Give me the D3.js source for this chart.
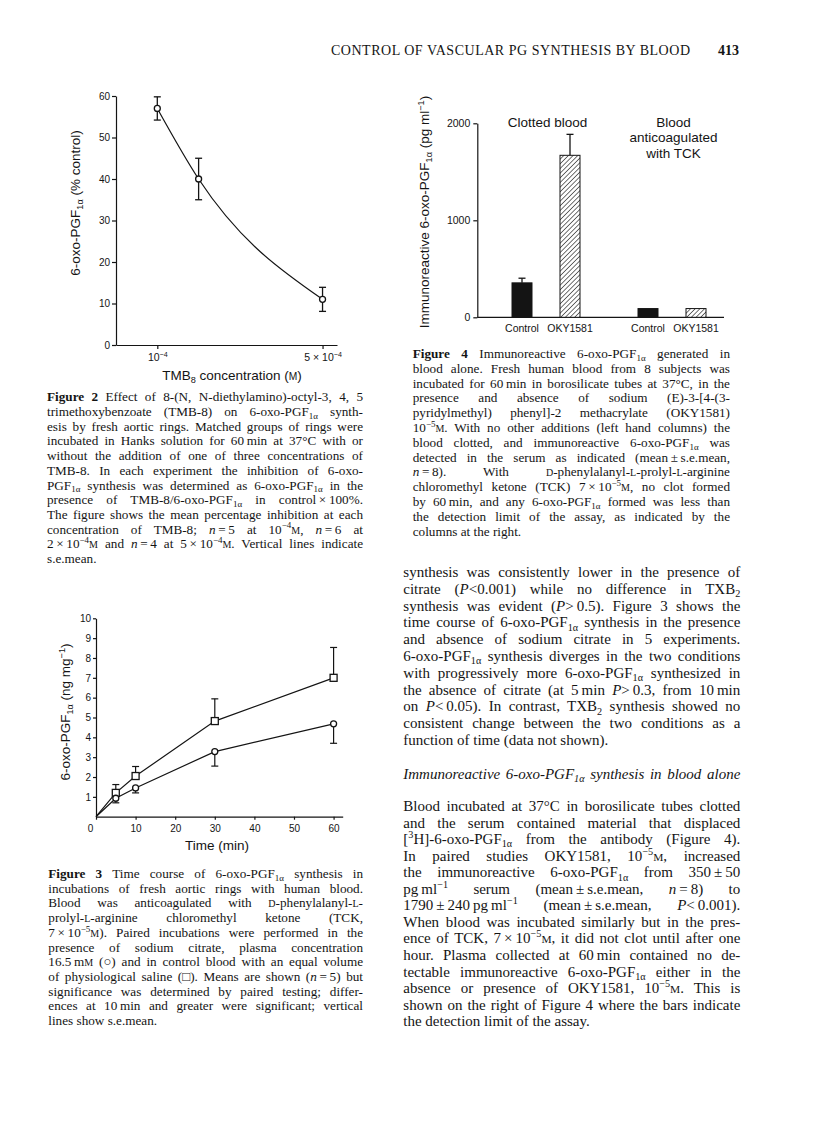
<!DOCTYPE html>
<html>
<head>
<meta charset="utf-8">
<script src="https://cdn.jsdelivr.net/npm/d3@7"></script>
<style>
	body { margin: 0; background: #fff; }
	svg { display: block; }
</style>
</head>
<body>
<div id="page"></div>
<script>
// Figure 2: TMB-8 concentration (x 10^-4 M) vs 6-oxo-PGF1a (% control)
var tmbConc = [1, 2, 5];
var tmbMean = [57, 40, 11];
var tmbSem = [2.8, 5, 2.9];
var f2YTicks = [0, 10, 20, 30, 40, 50, 60];
var f2XTicks = [1, 5];

// Figure 3: time course, saline (squares) and citrate (circles)
var times = [0, 5, 10, 30, 60];
var salineMean = [0, 1.2, 2.05, 4.82, 7.0];
var salineSem = [0, 0.42, 0.48, 1.12, 1.53];
var citrateMean = [0, 0.93, 1.45, 3.28, 4.68];
var citrateSem = [0, 0.23, 0.25, 0.73, 0.98];
var f3YTicks = [1, 2, 3, 4, 5, 6, 7, 8, 9, 10];
var f3XTicks = [0, 10, 20, 30, 40, 50, 60];

// Figure 4: immunoreactive 6-oxo-PGF1a (pg/ml)
var groups = ["Clotted blood", "Blood anticoagulated with TCK"];
var groupLines = [["Clotted blood"], ["Blood", "anticoagulated", "with TCK"]];
var treatments = ["Control", "OKY1581"];
var f4Values = [[355, 1670], [90, 90]];
var f4Sem = [[48, 216], [0, 0]];
var f4YTicks = [0, 1000, 2000];

// page text
var caption2 = [
	"!{Figure 2} Effect of 8-(N, N-diethylamino)-octyl-3, 4, 5",
	"trimethoxybenzoate (TMB-8) on 6-oxo-PGF_{1α} synth-",
	"esis by fresh aortic rings. Matched groups of rings were",
	"incubated in Hanks solution for 60\u2009min at 37°C with or",
	"without the addition of one of three concentrations of",
	"TMB-8. In each experiment the inhibition of 6-oxo-",
	"PGF_{1α} synthesis was determined as 6-oxo-PGF_{1α} in the",
	"presence of TMB-8/6-oxo-PGF_{1α} in control\u2009×\u2009100%.",
	"The figure shows the mean percentage inhibition at each",
	"concentration of TMB-8; *n*\u2009=\u20095 at 10^{−4}~{m}, *n*\u2009=\u20096 at",
	"2\u2009×\u200910^{−4}~{m} and *n*\u2009=\u20094 at 5\u2009×\u200910^{−4}~{m}. Vertical lines indicate",
	"s.e.mean."
];
var caption3 = [
	"!{Figure 3} Time course of 6-oxo-PGF_{1α} synthesis in",
	"incubations of fresh aortic rings with human blood.",
	"Blood was anticoagulated with ~{d}-phenylalanyl-~{l}-",
	"prolyl-~{l}-arginine chloromethyl ketone (TCK,",
	"7\u2009×\u200910^{−5}~{m}). Paired incubations were performed in the",
	"presence of sodium citrate, plasma concentration",
	"16.5\u2009m~{m} (○) and in control blood with an equal volume",
	"of physiological saline (□). Means are shown (*n*\u2009=\u20095) but",
	"significance was determined by paired testing; differ-",
	"ences at 10\u2009min and greater were significant; vertical",
	"lines show s.e.mean."
];
var caption4 = [
	"!{Figure 4} Immunoreactive 6-oxo-PGF_{1α} generated in",
	"blood alone. Fresh human blood from 8 subjects was",
	"incubated for 60\u2009min in borosilicate tubes at 37°C, in the",
	"presence and absence of sodium (E)-3-[4-(3-",
	"pyridylmethyl) phenyl]-2 methacrylate (OKY1581)",
	"10^{−5}~{m}. With no other additions (left hand columns) the",
	"blood clotted, and immunoreactive 6-oxo-PGF_{1α} was",
	"detected in the serum as indicated (mean\u2009±\u2009s.e.mean,",
	"*n*\u2009=\u20098). With ~{d}-phenylalanyl-~{l}-prolyl-~{l}-arginine",
	"chloromethyl ketone (TCK) 7\u2009×\u200910^{−5}~{m}, no clot formed",
	"by 60\u2009min, and any 6-oxo-PGF_{1α} formed was less than",
	"the detection limit of the assay, as indicated by the",
	"columns at the right."
];
var body1 = [
	"synthesis was consistently lower in the presence of",
	"citrate (*P*<0.001) while no difference in TXB_{2}",
	"synthesis was evident (*P*>\u20090.5). Figure 3 shows the",
	"time course of 6-oxo-PGF_{1α} synthesis in the presence",
	"and absence of sodium citrate in 5 experiments.",
	"6-oxo-PGF_{1α} synthesis diverges in the two conditions",
	"with progressively more 6-oxo-PGF_{1α} synthesized in",
	"the absence of citrate (at 5\u2009min *P*>\u20090.3, from 10\u2009min",
	"on *P*<\u20090.05). In contrast, TXB_{2} synthesis showed no",
	"consistent change between the two conditions as a",
	"function of time (data not shown)."
];
var heading = ["Immunoreactive 6-oxo-PGF_{1α} synthesis in blood alone"];
var body2 = [
	"Blood incubated at 37°C in borosilicate tubes clotted",
	"and the serum contained material that displaced",
	"[^{3}H]-6-oxo-PGF_{1α} from the antibody (Figure 4).",
	"In paired studies OKY1581, 10^{−5}~{m}, increased",
	"the immunoreactive 6-oxo-PGF_{1α} from 350\u2009±\u200950",
	"pg\u2009ml^{−1} serum (mean\u2009±\u2009s.e.mean, *n*\u2009=\u20098) to",
	"1790\u2009±\u2009240\u2009pg\u2009ml^{−1} (mean\u2009±\u2009s.e.mean, *P*<\u20090.001).",
	"When blood was incubated similarly but in the pres-",
	"ence of TCK, 7\u2009×\u200910^{−5}~{m}, it did not clot until after one",
	"hour. Plasma collected at 60\u2009min contained no de-",
	"tectable immunoreactive 6-oxo-PGF_{1α} either in the",
	"absence or presence of OKY1581, 10^{−5}~{m}. This is",
	"shown on the right of Figure 4 where the bars indicate",
	"the detection limit of the assay."
];

var SERIF = "'Liberation Serif', 'Times New Roman', serif";
var SANS = "'Liberation Sans', Arial, Helvetica, sans-serif";
var INK = "#141414";

var svg = d3.select("#page").append("svg")
	.attr("width", 816)
	.attr("height", 1133)
	.attr("viewBox", "0 0 816 1133");

svg.append("rect").attr("width", 816).attr("height", 1133).attr("fill", "#fff");

// small markup: !{bold} *italic* _{sub} ^{sup} ~{smallcaps}
function rich(text, str, size) {
	var re = /(!\{[^}]*\}|\*[^*]+\*|_\{[^}]*\}|\^\{[^}]*\}|~\{[^}]*\})/g;
	var shift = 0;
	str.split(re).forEach(function(part) {
		if (!part) return;
		var t = text.append("tspan");
		var target = 0;
		var txt = part;
		if (part.indexOf("!{") === 0) {
			txt = part.slice(2, -1);
			t.attr("font-weight", "bold");
		} else if (part.charAt(0) === "*") {
			txt = part.slice(1, -1);
			t.attr("font-style", "italic");
		} else if (part.indexOf("_{") === 0) {
			txt = part.slice(2, -1);
			t.attr("font-size", size * 0.68);
			target = size * 0.22;
		} else if (part.indexOf("^{") === 0) {
			txt = part.slice(2, -1);
			t.attr("font-size", size * 0.68);
			target = -size * 0.4;
		} else if (part.indexOf("~{") === 0) {
			txt = part.slice(2, -1).toUpperCase();
			t.attr("font-size", size * 0.76);
		}
		t.attr("dy", target - shift);
		shift = target;
		t.text(txt);
	});
	return text;
}

function justify(text, width) {
	var node = text.node();
	var natural = node.getComputedTextLength();
	var spaces = (node.textContent.match(/ /g) || []).length;
	if (!spaces) return;
	text.style("word-spacing", ((width - natural) / spaces) + "px");
	var after = node.getComputedTextLength();
	if (Math.abs(after - width) > 1.5) {
		text.style("word-spacing", null)
			.attr("textLength", width)
			.attr("lengthAdjust", "spacing");
	}
}

function paragraph(lines, x, y0, lineHeight, width, size, justifyLast, italic) {
	lines.forEach(function(line, i) {
		var t = svg.append("text")
			.attr("x", x)
			.attr("y", y0 + i * lineHeight)
			.attr("font-family", SERIF)
			.attr("font-size", size)
			.attr("fill", INK)
			.style("white-space", "pre");
		if (italic) t.attr("font-style", "italic");
		rich(t, line, size);
		if (i < lines.length - 1 || justifyLast) justify(t, width);
	});
}

function styleAxis(g, size) {
	g.attr("font-family", SANS).attr("font-size", size);
	g.selectAll("path, line").attr("stroke", INK).attr("stroke-width", 1.2);
	g.selectAll("text").attr("fill", INK);
}

function axisTitle(x, y, str, size, rotate) {
	var t = svg.append("text")
		.attr("font-family", SANS)
		.attr("font-size", size)
		.attr("fill", INK)
		.attr("text-anchor", "middle")
		.attr("transform", "translate(" + x + "," + y + ")" + (rotate ? " rotate(-90)" : ""));
	rich(t, str, size);
	return t;
}

// ---------- running head ----------
svg.append("text")
	.attr("x", 331).attr("y", 55)
	.attr("font-family", SERIF).attr("font-size", 14).attr("fill", INK)
	.attr("textLength", 359).attr("lengthAdjust", "spacing")
	.text("CONTROL OF VASCULAR PG SYNTHESIS BY BLOOD");
svg.append("text")
	.attr("x", 718).attr("y", 55)
	.attr("font-family", SERIF).attr("font-size", 14).attr("font-weight", "bold").attr("fill", INK)
	.text("413");

// ---------- Figure 2 ----------
var x2 = d3.scaleLinear().domain([0, 5.35]).range([116, 337]);
var y2 = d3.scaleLinear().domain([0, 60]).range([345, 96]);
var f2 = tmbConc.map(function(c, i) { return { c: c, m: tmbMean[i], s: tmbSem[i] }; });

var gy2 = svg.append("g").attr("transform", "translate(" + x2(0) + ",0)")
	.call(d3.axisLeft(y2).tickValues(f2YTicks).tickSize(4).tickSizeOuter(0).tickPadding(2));
styleAxis(gy2, 10);

var gx2 = svg.append("g").attr("transform", "translate(0," + y2(0) + ")")
	.call(d3.axisBottom(x2).tickValues(f2XTicks).tickSize(4).tickSizeOuter(0).tickPadding(4));
styleAxis(gx2, 10);
gx2.selectAll(".tick text").each(function(d) {
	var t = d3.select(this).text(null).attr("dy", null).attr("y", 16).attr("font-size", 10.5);
	rich(t, d === 1 ? "10^{−4}" : d + " × 10^{−4}", 10.5);
});

svg.append("path")
	.datum(f2)
	.attr("fill", "none")
	.attr("stroke", INK)
	.attr("stroke-width", 1.2)
	.attr("d", d3.line().x(function(d) { return x2(d.c); }).y(function(d) { return y2(d.m); }).curve(d3.curveMonotoneX));

var eb2 = svg.append("g").attr("stroke", INK).attr("stroke-width", 1.3);
f2.forEach(function(d) {
	eb2.append("line").attr("x1", x2(d.c)).attr("x2", x2(d.c)).attr("y1", y2(d.m - d.s)).attr("y2", y2(d.m + d.s));
	[d.m - d.s, d.m + d.s].forEach(function(v) {
		eb2.append("line").attr("x1", x2(d.c) - 3.5).attr("x2", x2(d.c) + 3.5).attr("y1", y2(v)).attr("y2", y2(v));
	});
});
svg.selectAll(".f2pt").data(f2).enter().append("circle")
	.attr("class", "f2pt")
	.attr("cx", function(d) { return x2(d.c); })
	.attr("cy", function(d) { return y2(d.m); })
	.attr("r", 3)
	.attr("fill", "#fff")
	.attr("stroke", INK)
	.attr("stroke-width", 1.3);

axisTitle(80, 203, "6-oxo-PGF_{1α} (% control)", 13.5, true);
axisTitle(232, 380, "TMB_{8} concentration (~{m})", 13.5, false);

// ---------- Figure 3 ----------
var x3 = d3.scaleLinear().domain([0, 62.3]).range([96, 342.7]);
var y3 = d3.scaleLinear().domain([0, 10]).range([816.7, 618.3]);
var saline = times.map(function(t, i) { return { t: t, m: salineMean[i], s: salineSem[i] }; });
var citrate = times.map(function(t, i) { return { t: t, m: citrateMean[i], s: citrateSem[i] }; });

var gy3 = svg.append("g").attr("transform", "translate(" + x3(0) + ",0)")
	.call(d3.axisLeft(y3).tickValues(f3YTicks).tickSize(3).tickSizeOuter(0).tickPadding(2));
styleAxis(gy3, 10);
var gx3 = svg.append("g").attr("transform", "translate(0," + y3(0) + ")")
	.call(d3.axisBottom(x3).tickValues(f3XTicks).tickSize(3).tickSizeOuter(0).tickPadding(5));
styleAxis(gx3, 10);
gx3.selectAll(".tick text").filter(function(d) { return d === 0; }).attr("dx", -6);

var line3 = d3.line().x(function(d) { return x3(d.t); }).y(function(d) { return y3(d.m); });
[saline, citrate].forEach(function(series) {
	svg.append("path").datum(series)
		.attr("fill", "none").attr("stroke", INK).attr("stroke-width", 1.2)
		.attr("d", line3);
});

var eb3 = svg.append("g").attr("stroke", INK).attr("stroke-width", 1.2);
saline.filter(function(d) { return d.t > 0; }).forEach(function(d) {
	eb3.append("line").attr("x1", x3(d.t)).attr("x2", x3(d.t)).attr("y1", y3(d.m)).attr("y2", y3(d.m + d.s));
	eb3.append("line").attr("x1", x3(d.t) - 3.5).attr("x2", x3(d.t) + 3.5).attr("y1", y3(d.m + d.s)).attr("y2", y3(d.m + d.s));
});
citrate.filter(function(d) { return d.t > 0; }).forEach(function(d) {
	eb3.append("line").attr("x1", x3(d.t)).attr("x2", x3(d.t)).attr("y1", y3(d.m)).attr("y2", y3(d.m - d.s));
	eb3.append("line").attr("x1", x3(d.t) - 3.5).attr("x2", x3(d.t) + 3.5).attr("y1", y3(d.m - d.s)).attr("y2", y3(d.m - d.s));
});

svg.selectAll(".sq").data(saline.filter(function(d) { return d.t > 0; })).enter().append("rect")
	.attr("class", "sq")
	.attr("x", function(d) { return x3(d.t) - 3.5; })
	.attr("y", function(d) { return y3(d.m) - 3.5; })
	.attr("width", 7).attr("height", 7)
	.attr("fill", "#fff").attr("stroke", INK).attr("stroke-width", 1.3);
svg.selectAll(".ci").data(citrate.filter(function(d) { return d.t > 0; })).enter().append("circle")
	.attr("class", "ci")
	.attr("cx", function(d) { return x3(d.t); })
	.attr("cy", function(d) { return y3(d.m); })
	.attr("r", 3)
	.attr("fill", "#fff").attr("stroke", INK).attr("stroke-width", 1.3);

axisTitle(70, 712, "6-oxo-PGF_{1α} (ng mg^{−1})", 13.5, true);
axisTitle(217, 850, "Time (min)", 13.5, false);

// ---------- Figure 4 ----------
var xg4 = d3.scaleBand().domain(groups).range([483, 735]).paddingInner(0).paddingOuter(0);
var xt4 = d3.scalePoint().domain(treatments).range([-24, 24]);
var y4 = d3.scaleLinear().domain([0, 2000]).range([317.3, 123.3]);
var barW = 20;

var defs = svg.append("defs");
var hatch = defs.append("pattern")
	.attr("id", "hatch")
	.attr("patternUnits", "userSpaceOnUse")
	.attr("width", 3.3).attr("height", 3.3)
	.attr("patternTransform", "rotate(45)");
hatch.append("rect").attr("width", 3.3).attr("height", 3.3).attr("fill", "#fff");
hatch.append("line").attr("x1", 0).attr("y1", 0).attr("x2", 0).attr("y2", 3.3)
	.attr("stroke", INK).attr("stroke-width", 1.2);

var bars4 = [];
groups.forEach(function(g, gi) {
	treatments.forEach(function(t, ti) {
		bars4.push({ g: g, t: t, v: f4Values[gi][ti], s: f4Sem[gi][ti], cx: xg4(g) + xg4.bandwidth() / 2 + xt4(t) });
	});
});

var gy4 = svg.append("g").attr("transform", "translate(477.3,0)")
	.call(d3.axisLeft(y4).tickValues(f4YTicks).tickFormat(d3.format("d")).tickSize(4).tickSizeOuter(0).tickPadding(3));
styleAxis(gy4, 10.5);
svg.append("line")
	.attr("x1", 477.3).attr("x2", 724).attr("y1", y4(0)).attr("y2", y4(0))
	.attr("stroke", INK).attr("stroke-width", 1.2);

svg.selectAll(".bar4").data(bars4).enter().append("rect")
	.attr("class", "bar4")
	.attr("x", function(d) { return d.cx - barW / 2; })
	.attr("y", function(d) { return y4(d.v); })
	.attr("width", barW)
	.attr("height", function(d) { return y4(0) - y4(d.v); })
	.attr("fill", function(d) { return d.t === "Control" ? INK : "url(#hatch)"; })
	.attr("stroke", INK)
	.attr("stroke-width", 1);

var eb4 = svg.append("g").attr("stroke", INK).attr("stroke-width", 1.3);
bars4.filter(function(d) { return d.s > 0; }).forEach(function(d) {
	eb4.append("line").attr("x1", d.cx).attr("x2", d.cx).attr("y1", y4(d.v)).attr("y2", y4(d.v + d.s));
	eb4.append("line").attr("x1", d.cx - 3.5).attr("x2", d.cx + 3.5).attr("y1", y4(d.v + d.s)).attr("y2", y4(d.v + d.s));
});

svg.selectAll(".lab4").data(bars4).enter().append("text")
	.attr("class", "lab4")
	.attr("x", function(d) { return d.cx; })
	.attr("y", 332)
	.attr("text-anchor", "middle")
	.attr("font-family", SANS).attr("font-size", 10.5).attr("fill", INK)
	.text(function(d) { return d.t; });

groups.forEach(function(g, gi) {
	groupLines[gi].forEach(function(l, li) {
		svg.append("text")
			.attr("x", xg4(g) + xg4.bandwidth() / 2 + 1.5)
			.attr("y", 127 + li * 15.3)
			.attr("text-anchor", "middle")
			.attr("font-family", SANS).attr("font-size", 13.5).attr("fill", INK)
			.text(l);
	});
});

axisTitle(429, 212, "Immunoreactive 6-oxo-PGF_{1α} (pg ml^{−1})", 13.5, true);

// ---------- captions and running text ----------
paragraph(caption2, 47, 401.3, 14.7, 316, 13.2, false);
paragraph(caption3, 48.3, 878, 14.7, 314.7, 13.2, false);
paragraph(caption4, 412.7, 358, 14.8, 317.3, 13.2, false);
paragraph(body1, 403.3, 577, 16.8, 337, 15, false);
paragraph(heading, 403.3, 779, 16.6, 337, 15, true, true);
paragraph(body2, 403.3, 811, 16.55, 337, 15, false);
</script>
</body>
</html>
